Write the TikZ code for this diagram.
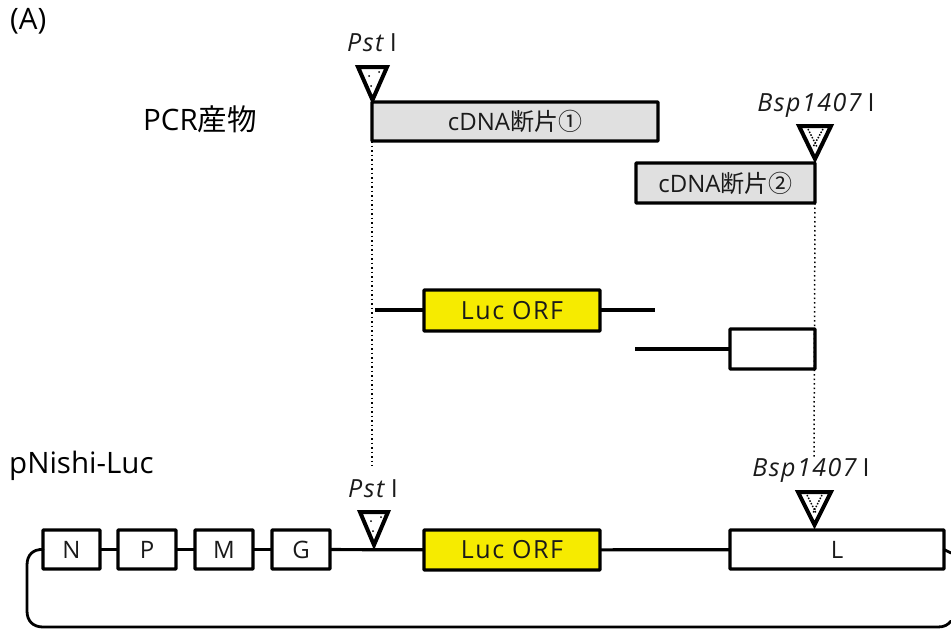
\documentclass[tikz,border=0pt]{standalone}
\usepackage{fontspec}
\setmainfont{Open Sans}
\newfontfamily\jp{Noto Sans CJK JP}
\newfontfamily\spaced[LetterSpace=6]{Open Sans}
\definecolor{boxgrey}{HTML}{E0E0E0}
\definecolor{lucyellow}{HTML}{F6EB00}
\definecolor{txt}{HTML}{1A1A1A}
\tikzset{
  seg/.style={draw=black,line width=3.4pt,rounded corners=0.8pt,anchor=north west,inner sep=0pt,outer sep=0pt,text=txt,font=\fontsize{24}{26}\selectfont,align=center},
  wire/.style={line width=3.2pt},
  thin wire/.style={line width=2.8pt,line cap=round},
  dotline/.style={line width=1.5pt,dash pattern=on 1.5pt off 3pt},
  hatch/.style={line width=1.5pt,dash pattern=on 1.5pt off 1.5pt},
  tri/.style={draw=black,fill=white,line width=4pt,line join=miter},
  site/.style={font=\spaced\fontsize{25}{27}\selectfont,text=txt,inner sep=0pt},
  title/.style={font=\fontsize{29.5}{31}\selectfont,text=black,inner sep=0pt,anchor=west}
}
\newcommand{\segbox}[7]{\node[seg,fill=#6,minimum width=#4pt-#2pt,minimum height=#5pt-#3pt] (#1) at (#2,#3) {#7};}
\newcommand{\sitename}[3]{\node[site] (#1) at (#2) {\textit{#3}\,I};}
\newcommand{\lucname}{{\spaced\fontsize{25}{27}\selectfont Luc ORF}}
\begin{document}
\begin{tikzpicture}[x=1pt,y=-1pt]
\useasboundingbox (0,0) rectangle (951,629);
\node[title] (a) at (10,21) {(A)};
\node[title] (pcr) at (143,119) {PCR{\jp 産物}};
\node[title] (pn) at (9,466) {pNishi-Luc};
% boxes
\segbox{c1}{372}{102}{658}{141}{boxgrey}{cDNA{\jp 断片①}}
\segbox{c2}{636}{163}{815}{203}{boxgrey}{cDNA{\jp 断片②}}
\segbox{luc1}{424}{290}{600}{331}{lucyellow}{\lucname}
\segbox{e2}{730}{329}{815}{369}{white}{}
\segbox{N}{43}{530}{100}{569}{white}{N}
\segbox{P}{118}{530}{176}{569}{white}{P}
\segbox{M}{195}{530}{253}{569}{white}{M}
\segbox{G}{272}{530}{330}{569}{white}{G}
\segbox{luc2}{424}{530}{600}{570}{lucyellow}{\lucname}
\segbox{L}{730}{530}{944}{569}{white}{L}
% wires
\coordinate (w1) at (375,310);
\coordinate (w2) at (655,310);
\coordinate (w3) at (635,349);
\draw[wire] (w1) -- (w1-|luc1.west);
\draw[wire] (w2-|luc1.east) -- (w2);
\draw[wire] (w3) -- (w3-|e2.west);
\draw[wire] (N) -- (P);
\draw[wire] (P) -- (M);
\draw[wire] (M) -- (G);
\draw[wire] (G) -- (luc2);
\draw[wire] (luc2) -- (L);
% loop
\coordinate (lc1) at (951,621);
\coordinate (lc2) at (951,553);
\draw[thin wire] (N.west) .. controls (33,549) and (27,555) .. (27,565) -- (27,611) .. controls (27,621) and (33,627) .. (43,627) -- (938,627) .. controls (944,627) and (948,625) .. (lc1);
\draw[thin wire] (L.east) -- (lc2);
% dotted guides
\coordinate (d1) at (372,466);
\coordinate (d2) at (814,457);
\draw[dotline] (c1.south west) -- (d1);
\draw[dotline] (c2.south east) -- (d2);
% site labels
\sitename{pst1}{372,43}{Pst}
\sitename{bsp1}{816,105}{Bsp1407}
\sitename{pst2}{373,489}{Pst}
\sitename{bsp2}{811,470}{Bsp1407}
% triangles
\draw[tri] (358,67) -- (387,67) -- (372.5,100) -- cycle;
\fill (369,76) circle (1pt) (379,72) circle (1pt) (371,86) circle (1pt);
\draw[tri] (360,512) -- (388,512) -- (374,545) -- cycle;
\fill (371,521) circle (1pt) (381,517) circle (1pt) (373,531) circle (1pt);
\draw[tri] (799,126) -- (831,126) -- (815,159) -- cycle;
\draw[hatch] (808,129) -- (817,147) (823,129) -- (813,147);
\draw[tri] (798,492) -- (831,492) -- (814.5,525) -- cycle;
\draw[hatch] (807,495) -- (816,513) (822,495) -- (813,513);
\end{tikzpicture}
\end{document}
